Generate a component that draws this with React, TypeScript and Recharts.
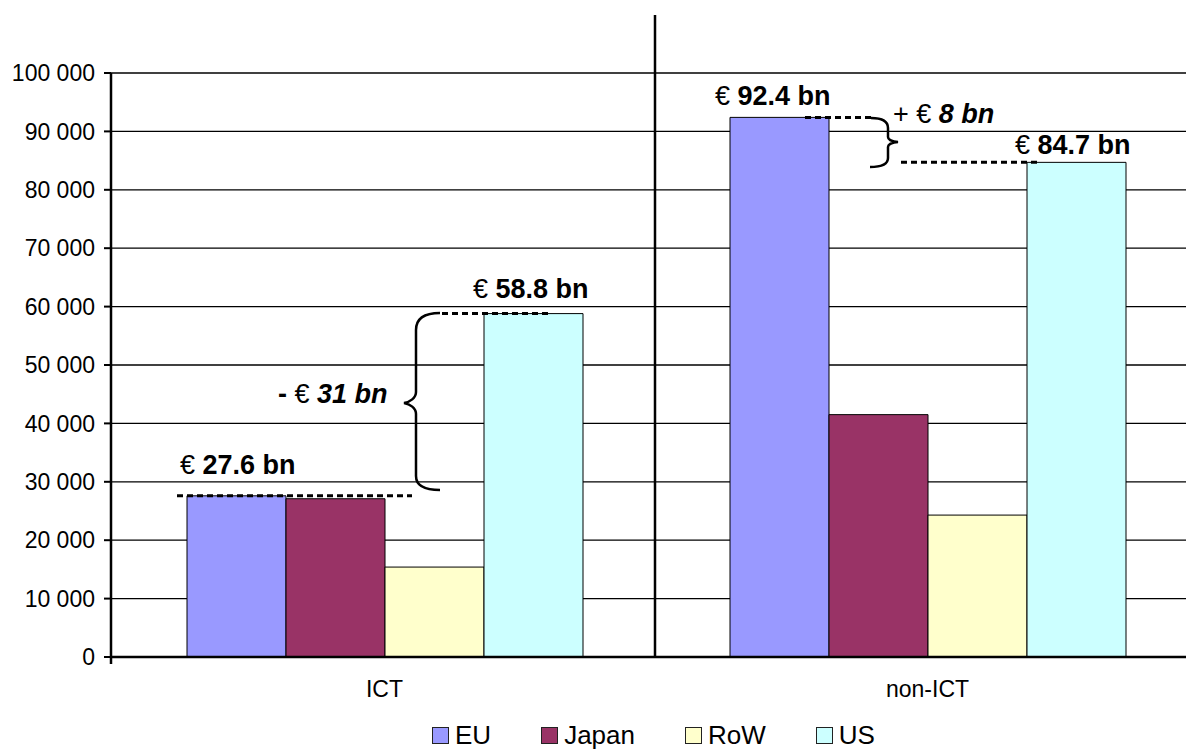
import React from 'react';
import { BarChart, Bar, XAxis, YAxis, CartesianGrid, Legend } from 'recharts';

// values in EUR million
const categories = ['ICT', 'non-ICT'];
const euValues = [27600, 92400];
const japanValues = [27100, 41500];
const rowValues = [15400, 24300];
const usValues = [58800, 84700];
const yTicks = [0, 10000, 20000, 30000, 40000, 50000, 60000, 70000, 80000, 90000, 100000];

const series = [
  { key: 'EU', values: euValues, color: '#9999FF' },
  { key: 'Japan', values: japanValues, color: '#993366' },
  { key: 'RoW', values: rowValues, color: '#FFFFCC' },
  { key: 'US', values: usValues, color: '#CCFFFF' },
];

const data = categories.map((name, i) => {
  const row: Record<string, string | number> = { name };
  series.forEach((s) => (row[s.key] = s.values[i]));
  return row;
});

const FONT = 'Arial, "Liberation Sans", sans-serif';
const CHART_W = 1210;
const CHART_H = 751;
const PLOT_LEFT = 111;
const PLOT_RIGHT = 1199;
const PLOT_TOP = 73;
const PLOT_BOTTOM = 657;
const Y_MAX = 100000;

const yOf = (v: number) => PLOT_BOTTOM - (v / Y_MAX) * (PLOT_BOTTOM - PLOT_TOP);
const bandW = (PLOT_RIGHT - PLOT_LEFT) / categories.length;

const fmt = (v: number) =>
  v === 0 ? '0' : `${Math.floor(v / 1000)} ${String(v % 1000).padStart(3, '0')}`;

function LegendBox() {
  return (
    <div style={{ display: 'flex', alignItems: 'center', height: 26, fontFamily: FONT, fontSize: 26, lineHeight: '26px', color: '#000' }}>
      {series.map((s) => (
        <div key={s.key} style={{ display: 'flex', alignItems: 'center', marginRight: 50 }}>
          <span style={{ width: 15, height: 15, background: s.color, border: '1px solid #222', display: 'inline-block' }} />
          <span style={{ marginLeft: 6 }}>{s.key}</span>
        </div>
      ))}
    </div>
  );
}

// brace and dashed-line callouts drawn over the chart
function Annotations() {
  const dash = { stroke: '#000', strokeWidth: 3, strokeDasharray: '6 4' };
  const brace = { stroke: '#000', strokeWidth: 2.5, fill: 'none' };
  const divX = PLOT_LEFT + bandW;
  const fs = 27;
  return (
    <svg width={1186} height={751} style={{ position: 'absolute', left: 0, top: 0, pointerEvents: 'none' }} fontFamily={FONT}>
      <line x1={divX} x2={divX} y1={15} y2={PLOT_BOTTOM} stroke="#000" strokeWidth={2.5} />
      <line x1={PLOT_LEFT} x2={PLOT_LEFT} y1={PLOT_BOTTOM} y2={PLOT_BOTTOM + 7} stroke="#000" strokeWidth={2.5} />

      {/* ICT: EU vs US */}
      <line x1={177} x2={412} y1={yOf(euValues[0])} y2={yOf(euValues[0])} {...dash} />
      <line x1={442} x2={550} y1={yOf(usValues[0])} y2={yOf(usValues[0])} {...dash} />
      <path d="M 440 313 C 425 313, 416 318, 416 330 L 416 392 C 416 398, 410 402, 404 403 C 410 404, 416 408, 416 414 L 416 476 C 416 486, 425 490, 440 490" {...brace} />
      <text x={180} y={474} fontSize={fs}>
        € <tspan fontWeight="bold">27.6 bn</tspan>
      </text>
      <text x={473} y={298} fontSize={fs}>
        € <tspan fontWeight="bold">58.8 bn</tspan>
      </text>
      <text x={278} y={403} fontSize={fs}>
        <tspan fontWeight="bold">-</tspan> € <tspan fontWeight="bold" fontStyle="italic">31 bn</tspan>
      </text>

      {/* non-ICT: EU vs US */}
      <line x1={805} x2={871} y1={yOf(euValues[1])} y2={yOf(euValues[1])} {...dash} />
      <line x1={901} x2={1041} y1={yOf(usValues[1])} y2={yOf(usValues[1])} {...dash} />
      <path d="M 871 118 C 882 118, 888 121, 888 128 L 888 137 C 888 140, 893 141.5, 898 142 C 893 142.5, 888 144, 888 147 L 888 158 C 888 164, 882 167, 870 167" {...brace} />
      <text x={715} y={105} fontSize={fs}>
        € <tspan fontWeight="bold">92.4 bn</tspan>
      </text>
      <text x={893} y={123} fontSize={fs}>
        + € <tspan fontWeight="bold" fontStyle="italic">8 bn</tspan>
      </text>
      <text x={1015} y={154} fontSize={fs}>
        € <tspan fontWeight="bold">84.7 bn</tspan>
      </text>
    </svg>
  );
}

export default function App() {
  return (
    <div style={{ position: 'fixed', left: 0, top: 0, width: 1186, height: 751, overflow: 'hidden', background: '#fff' }}>
      <div style={{ position: 'relative', width: CHART_W, height: CHART_H }}>
        <BarChart
          width={CHART_W}
          height={CHART_H}
          data={data}
          margin={{ top: PLOT_TOP, right: CHART_W - PLOT_RIGHT, left: 0, bottom: 28 }}
          barGap={0}
          barSize={99}
        >
          <CartesianGrid vertical={false} stroke="#000" strokeWidth={1.3} />
          <XAxis
            dataKey="name"
            height={40}
            padding={{ left: 2, right: 0 }}
            tickLine={false}
            tickSize={6}
            tickMargin={18}
            axisLine={{ stroke: '#000', strokeWidth: 2.5 }}
            tick={{ fontSize: 23, fill: '#000', fontFamily: FONT }}
          />
          <YAxis
            width={PLOT_LEFT}
            domain={[0, Y_MAX]}
            ticks={yTicks}
            interval={0}
            tickFormatter={fmt}
            tickSize={7}
            tickMargin={9}
            axisLine={{ stroke: '#000', strokeWidth: 2.5 }}
            tickLine={{ stroke: '#000', strokeWidth: 2 }}
            tick={{ fontSize: 23, fill: '#000', fontFamily: FONT }}
          />
          <Legend content={() => <LegendBox />} wrapperStyle={{ top: 722, left: 432, width: 'auto', bottom: 'auto' }} />
          {series.map((s) => (
            <Bar key={s.key} dataKey={s.key} fill={s.color} stroke="#000" strokeWidth={1} isAnimationActive={false} />
          ))}
        </BarChart>
        <Annotations />
      </div>
    </div>
  );
}
